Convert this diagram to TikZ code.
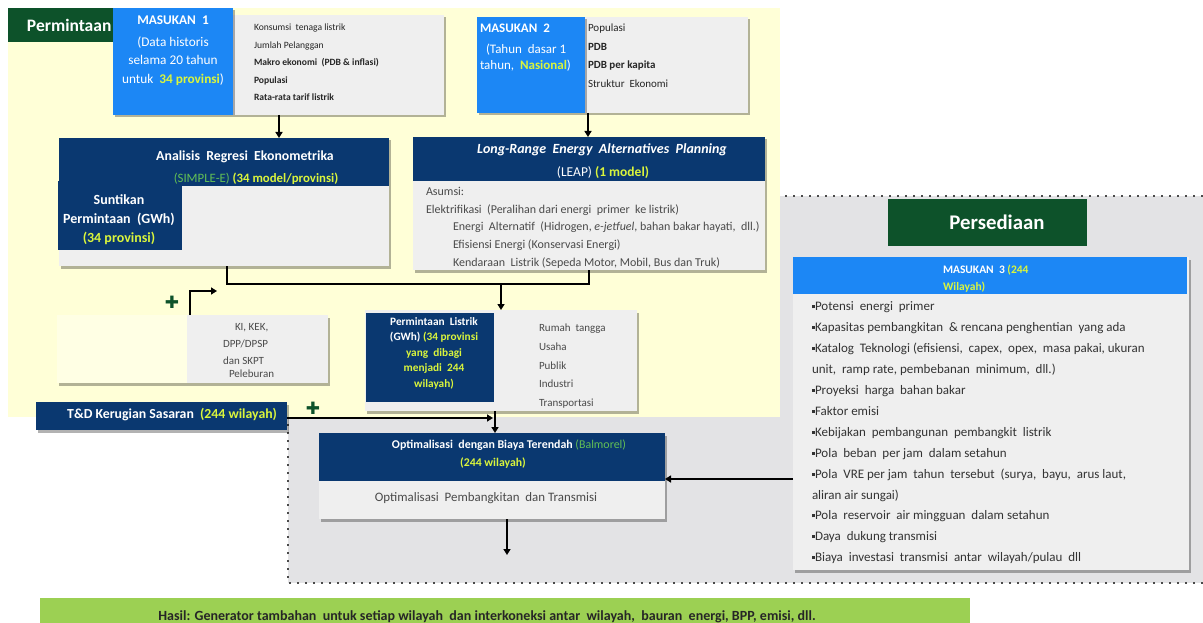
\documentclass[tikz,border=0pt]{standalone}
\usepackage{fontspec}
\setmainfont{Carlito}
\newfontfamily\symfont{DejaVu Sans}
\usetikzlibrary{arrows.meta,shadows,positioning}

\definecolor{bgyellow}{HTML}{FFFFD7}
\definecolor{bggrey}{HTML}{E3E3E5}
\definecolor{boxgrey}{HTML}{EFEFEF}
\definecolor{kicream}{HTML}{FFFFE4}
\definecolor{navy}{HTML}{0A3870}
\definecolor{skyblue}{HTML}{1C87F5}
\definecolor{forest}{HTML}{0D522A}
\definecolor{hilite}{HTML}{DAF53C}
\definecolor{leafgreen}{HTML}{62BF55}
\definecolor{lime}{HTML}{9CD053}
\definecolor{inkgrey}{HTML}{4A4A4A}

\newcommand\fsz[2]{\fontsize{#1}{#2}\selectfont}
\newcommand\hl[1]{\textcolor{hilite}{\textbf{#1}}}
\newcommand\sqb{\rule[2.6pt]{3pt}{3pt}}

\tikzset{
  panel/.style={anchor=north west, inner sep=0pt, outer sep=0pt},
  shade box/.style={drop shadow={shadow xshift=2pt, shadow yshift=-2.5pt, opacity=.3, fill=black}},
  greypanel/.style={panel, fill=boxgrey, shade box},
  navypanel/.style={panel, fill=navy},
  bluepanel/.style={panel, fill=skyblue},
  headpanel/.style={panel, fill=forest},
  txt/.style={inner sep=0pt, outer sep=0pt},
  flow/.style={line width=2pt, -{Triangle[length=6pt,width=7pt]}},
  link/.style={line width=2pt},
  dotline/.style={line width=1.8pt, inkgrey, dash pattern=on 1.8pt off 6.2pt},
  plusmark/.style={txt, text=forest, font=\symfont\fsz{17}{17}},
}

\begin{document}
\begin{tikzpicture}[x=1pt,y=-1pt]
\useasboundingbox (0,0) rectangle (1203,623);
% latar
\fill[bggrey] (288,196) rectangle (1203,583);
\draw[dotline] (785,196) -- (1203,196) (1203,583) -- (288,583) -- (288,418);
\fill[bgyellow] (8,8) rectangle (780,417);

% hasil
\node[panel, fill=lime, minimum width=930, minimum height=30] (result) at (40,598) {};
\node[txt, text=black!85, font=\fsz{14}{14}\bfseries] (resulttxt) at (487,617) {Hasil: Generator tambahan\ \ untuk setiap wilayah\ \ dan interkoneksi antar\ \ wilayah,\ \ bauran\ \ energi, BPP, emisi, dll.};

% permintaan
\node[headpanel, minimum width=105, minimum height=34] (permhead) at (8,8) {};
\node[txt, anchor=west, white, font=\fsz{17.5}{17.5}\bfseries] (permtxt) at (27,25) {Permintaan};

% masukan 1
\node[greypanel, minimum width=211, minimum height=100] (m1list) at (233,15) {};
\node[bluepanel, shade box, minimum width=120, minimum height=107] (m1) at (113,8) {};
\node[txt, anchor=north, white, align=center, font=\fsz{13.3}{18.5}] (m1txt) at (173,16) {\textbf{MASUKAN\ \ 1}\\[3pt](Data historis\\selama 20 tahun\\untuk\ \ \hl{34 provinsi})};
\node[txt, anchor=north west, align=left, text=black!85, font=\fsz{9.6}{17.5}] (m1items) at (254,24) {Konsumsi\ \ tenaga listrik\\Jumlah Pelanggan\\\textbf{Makro ekonomi\ \ (PDB \& inflasi)}\\\textbf{Populasi}\\\textbf{Rata-rata tarif listrik}};

% masukan 2
\node[greypanel, minimum width=163, minimum height=96] (m2list) at (585,17) {};
\node[bluepanel, shade box, minimum width=108, minimum height=96] (m2) at (477,17) {};
\node[txt, anchor=north west, white, align=left, font=\fsz{13}{16}] (m2txt) at (480,24) {\textbf{MASUKAN\ \ 2}\\[5pt]\hspace*{6pt}(Tahun\ \ dasar 1\\tahun,\ \ \hl{Nasional})};
\node[txt, anchor=north west, align=left, text=black!85, font=\fsz{11}{18.5}] (m2items) at (588,24) {Populasi\\\textbf{PDB}\\\textbf{PDB per kapita}\\Struktur\ \ Ekonomi};

% analisis regresi
\node[greypanel, minimum width=330, minimum height=128] (ana) at (59,138) {};
\node[navypanel, minimum width=330, minimum height=48] (anahead) at (59,138) {};
\node[navypanel, minimum width=124, minimum height=69] (suntik) at (58,181) {};
\node[txt, white, font=\fsz{13.8}{13.8}\bfseries] (anatitle) at (245,157) {Analisis\ \ Regresi\ \ Ekonometrika};
\node[txt, font=\fsz{12.8}{12.8}] (anamodel) at (256,179) {\textcolor{leafgreen}{(SIMPLE-E)} \hl{(34 model/provinsi)}};
\node[txt, white, align=center, font=\fsz{14}{19}\bfseries] (suntiktxt) at (119,220) {Suntikan\\Permintaan\ \ (GWh)\\\textcolor{hilite}{(34 provinsi)}};

% leap
\node[greypanel, minimum width=352, minimum height=133] (leap) at (413,137) {};
\node[navypanel, minimum width=352, minimum height=44] (leaphead) at (413,137) {};
\node[txt, white, font=\fsz{14}{14}\bfseries\itshape] (leaptitle) at (602,150) {Long-Range\ \ Energy\ \ Alternatives\ \ Planning};
\node[txt, white, font=\fsz{13.5}{13.5}] (leapmodel) at (603,173) {(LEAP) \hl{(1 model)}};
\node[txt, anchor=north west, align=left, text=inkgrey, font=\fsz{12}{17.8}] (leapitems) at (426,187) {Asumsi:\\Elektrifikasi\ \ (Peralihan dari energi\ \ primer\ \ ke listrik)\\\hspace*{27pt}Energi\ \ Alternatif\ \ (Hidrogen, \textit{e-jetfuel}, bahan bakar hayati,\ \ dll.)\\\hspace*{27pt}Efisiensi Energi (Konservasi Energi)\\\hspace*{27pt}Kendaraan\ \ Listrik (Sepeda Motor, Mobil, Bus dan Truk)};

% ki kek
\node[panel, fill=kicream, shade box, minimum width=271, minimum height=68] (ki) at (57,315) {};
\node[panel, fill=boxgrey, minimum width=141, minimum height=68] (kigrey) at (187,315) {};
\node[txt, anchor=north west, align=left, text=inkgrey, font=\fsz{11}{17}] (kitxt) at (223,323) {\hspace*{12pt}KI,\ KEK,\\DPP/DPSP\\dan SKPT\\[-4pt]\hspace*{6pt}Peleburan};
\node[plusmark] (plusA) at (172,302) {✚};
\coordinate (kiend) at (217,291);
\draw[flow] ([xshift=3pt]kigrey.north west) |- (kiend);

% permintaan listrik
\node[greypanel, minimum width=272, minimum height=101] (plist) at (365,310) {};
\node[navypanel, minimum width=128, minimum height=89] (pnavy) at (366,313) {};
\node[txt, white, align=center, font=\fsz{11.3}{15.5}\bfseries] (pnavytxt) at (434,353) {Permintaan\ \ Listrik\\(GWh) \textcolor{hilite}{(34 provinsi}\\\textcolor{hilite}{yang\ \ dibagi}\\\textcolor{hilite}{menjadi\ \ 244}\\\textcolor{hilite}{wilayah)}};
\node[txt, anchor=north west, align=left, text=inkgrey, font=\fsz{11}{18.7}] (pitems) at (539,324) {Rumah\ \ tangga\\Usaha\\Publik\\Industri\\Transportasi};

% sambungan
\coordinate (join) at (501,284);
\draw[flow] ([xshift=46pt]m1list.south west) -- ([xshift=46pt]m1list.south west |- ana.north);
\draw[flow] ([xshift=3pt]m2list.south west) -- ([xshift=3pt]m2list.south west |- leap.north);
\draw[link] ([xshift=3pt]ana.south) |- (join -| leap.south) -- (leap.south);
\draw[flow] (join) -- (plist.north);

% t&d
\node[navypanel, shade box, minimum width=251, minimum height=28] (td) at (36,402) {};
\node[txt, anchor=east, white, font=\fsz{13.8}{13.8}\bfseries] (tdtxt) at (277,415) {T\&D Kerugian Sasaran\ \ \textcolor{hilite}{(244 wilayah)}};
\node[plusmark] (plusB) at (313,408) {✚};
\coordinate (tdend) at (493,418);
\draw[flow] (td.east |- tdend) -- (tdend);

% optimalisasi
\node[greypanel, minimum width=346, minimum height=86] (opt) at (319,433) {};
\node[navypanel, minimum width=346, minimum height=48] (opthead) at (319,433) {};
\node[txt, white, font=\fsz{11.9}{11.9}\bfseries] (opttitle) at (509,445) {Optimalisasi\ \ dengan Biaya Terendah \textcolor{leafgreen}{\mdseries(Balmorel)}};
\node[txt, text=hilite, font=\fsz{11.8}{11.8}\bfseries] (optreg) at (493,463) {(244 wilayah)};
\node[txt, text=inkgrey, font=\fsz{12.9}{12.9}] (opttxt) at (486,498) {Optimalisasi\ \ Pembangkitan\ \ dan Transmisi};
\draw[flow] ([xshift=-6pt]plist.south) -- ([xshift=-6pt]plist.south |- opt.north);
\coordinate (optout) at (507,555);
\draw[flow] (opt.south -| optout) -- (optout);

% persediaan
\node[headpanel, minimum width=199, minimum height=47] (persehead) at (888,199) {};
\node[txt, white, font=\fsz{20.8}{20.8}\bfseries] (persetxt) at (997,222) {Persediaan};
\node[greypanel, minimum width=396, minimum height=313] (m3body) at (793,257) {};
\node[bluepanel, minimum width=394, minimum height=37] (m3head) at (793,257) {};
\node[txt, anchor=north west, align=left, white, font=\fsz{11.5}{17}\bfseries] (m3txt) at (943,265) {MASUKAN\ \ 3 \textcolor{hilite}{(244}\\\textcolor{hilite}{Wilayah)}};
\node[txt, anchor=north west, align=left, text=black!80, font=\fsz{13}{20.9}] (m3items) at (812,302) {\sqb Potensi\ \ energi\ \ primer\\
\sqb Kapasitas pembangkitan\ \ \& rencana penghentian\ \ yang ada\\
\sqb Katalog\ \ Teknologi (efisiensi,\ \ capex,\ \ opex,\ \ masa pakai, ukuran\\
unit,\ \ ramp rate, pembebanan\ \ minimum,\ \ dll.)\\
\sqb Proyeksi\ \ harga\ \ bahan bakar\\
\sqb Faktor emisi\\
\sqb Kebijakan\ \ pembangunan\ \ pembangkit\ \ listrik\\
\sqb Pola\ \ beban\ \ per jam\ \ dalam setahun\\
\sqb Pola\ \ VRE per jam\ \ tahun\ \ tersebut\ \ (surya,\ \ bayu,\ \ arus laut,\\
aliran air sungai)\\
\sqb Pola\ \ reservoir\ \ air mingguan\ \ dalam setahun\\
\sqb Daya\ \ dukung transmisi\\
\sqb Biaya\ \ investasi\ \ transmisi\ \ antar\ \ wilayah/pulau\ \ dll};
\coordinate (opttip) at ([yshift=2pt]opthead.south east);
\draw[flow] (m3body.west |- opttip) -- (opttip);
\end{tikzpicture}
\end{document}
